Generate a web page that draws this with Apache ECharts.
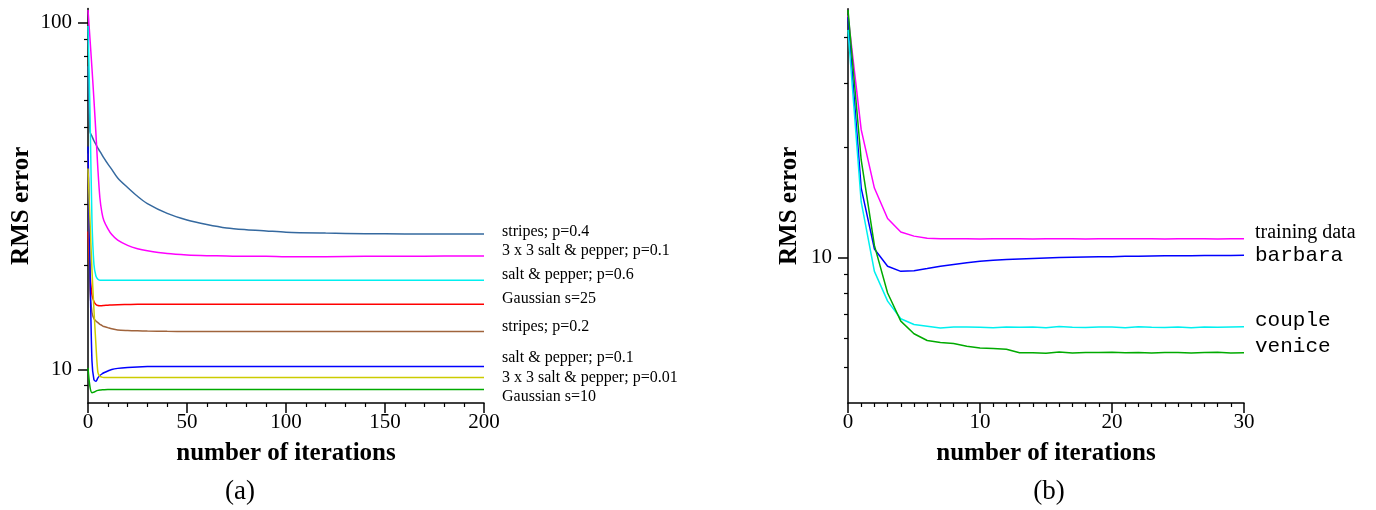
<!DOCTYPE html>
<html>
<head>
<meta charset="utf-8">
<script src="https://cdn.jsdelivr.net/npm/echarts@6/dist/echarts.min.js"></script>
<style>
  html, body { margin: 0; padding: 0; background: #fff; }
  #chart { width: 1376px; height: 510px; }
</style>
</head>
<body>
<div id="chart"></div>
<script>
// ---- panel (a): RMS error vs iterations, 8 noise types ----
const leftIter = [0, 1, 2, 3, 4, 5, 6, 7, 8, 10, 12, 15, 20, 25, 30, 40, 50, 60, 70, 80, 90, 100, 120, 140, 160, 180, 200]

const stripes04 = [75, 48.5, 47.1, 45.7, 44.6, 43.5, 42.6, 41.7, 40.8, 39.2, 37.8, 35.7, 33.5, 31.6, 30.1, 28.2, 27.0, 26.2, 25.6, 25.3, 25.1, 24.9, 24.75, 24.65, 24.6, 24.6, 24.6]
const saltPepper3x3_01 = [109, 90, 74, 60, 48, 37.8, 31.3, 28.4, 26.9, 25.5, 24.5, 23.6, 22.8, 22.3, 22.0, 21.6, 21.4, 21.3, 21.25, 21.2, 21.2, 21.15, 21.15, 21.2, 21.2, 21.25, 21.25]
const saltPepper06 = [98, 56, 27, 20.1, 18.6, 18.2, 18.1, 18.1, 18.1, 18.1, 18.1, 18.1, 18.1, 18.1, 18.1, 18.1, 18.1, 18.1, 18.1, 18.1, 18.1, 18.1, 18.1, 18.1, 18.1, 18.1, 18.1]
const gaussian25 = [25, 19, 16.4, 15.7, 15.4, 15.3, 15.28, 15.28, 15.3, 15.32, 15.35, 15.38, 15.4, 15.42, 15.42, 15.42, 15.42, 15.42, 15.42, 15.42, 15.42, 15.42, 15.42, 15.42, 15.42, 15.42, 15.42]
const stripes02 = [42, 17, 14.6, 14.0, 13.8, 13.65, 13.5, 13.4, 13.3, 13.2, 13.1, 13.0, 12.95, 12.92, 12.9, 12.88, 12.87, 12.87, 12.87, 12.87, 12.87, 12.87, 12.87, 12.87, 12.87, 12.87, 12.87]
const saltPepper01 = [44, 20, 10.6, 9.35, 9.25, 9.45, 9.6, 9.7, 9.78, 9.9, 10.0, 10.07, 10.13, 10.17, 10.19, 10.2, 10.2, 10.2, 10.2, 10.2, 10.2, 10.2, 10.2, 10.2, 10.2, 10.2, 10.2]
const saltPepper3x3_001 = [38, 27, 19.4, 14.9, 11.8, 9.8, 9.55, 9.5, 9.48, 9.48, 9.48, 9.48, 9.48, 9.48, 9.48, 9.48, 9.48, 9.48, 9.48, 9.48, 9.48, 9.48, 9.48, 9.48, 9.48, 9.48, 9.48]
const gaussian10 = [10.1, 8.9, 8.57, 8.6, 8.66, 8.7, 8.72, 8.73, 8.74, 8.75, 8.75, 8.75, 8.75, 8.75, 8.75, 8.75, 8.75, 8.75, 8.75, 8.75, 8.75, 8.75, 8.75, 8.75, 8.75, 8.75, 8.75]

// ---- panel (b): four test images, 0..30 iterations ----
const rightIter = [0, 1, 2, 3, 4, 5, 6, 7, 8, 9, 10, 11, 12, 13, 14, 15, 16, 17, 18, 19, 20, 21, 22, 23, 24, 25, 26, 27, 28, 29, 30]

const trainingData = [46, 22.4, 15.5, 12.8, 11.75, 11.45, 11.3, 11.27, 11.26, 11.27, 11.25, 11.26, 11.27, 11.26, 11.25, 11.27, 11.26, 11.27, 11.25, 11.26, 11.27, 11.26, 11.27, 11.26, 11.25, 11.27, 11.26, 11.27, 11.25, 11.27, 11.26]
const barbara = [45.5, 15.5, 10.56, 9.47, 9.17, 9.2, 9.33, 9.47, 9.58, 9.68, 9.77, 9.83, 9.88, 9.92, 9.95, 9.98, 10.0, 10.02, 10.04, 10.05, 10.06, 10.08, 10.09, 10.1, 10.11, 10.12, 10.12, 10.13, 10.14, 10.14, 10.15]
const couple = [42, 14.2, 9.17, 7.6, 6.8, 6.56, 6.49, 6.42, 6.46, 6.46, 6.45, 6.43, 6.46, 6.45, 6.46, 6.43, 6.48, 6.45, 6.44, 6.46, 6.46, 6.43, 6.47, 6.45, 6.44, 6.46, 6.43, 6.46, 6.45, 6.46, 6.47]
const venice = [47.6, 18.5, 10.8, 8.0, 6.7, 6.19, 5.93, 5.86, 5.82, 5.72, 5.66, 5.64, 5.61, 5.49, 5.49, 5.47, 5.52, 5.48, 5.5, 5.5, 5.51, 5.49, 5.5, 5.48, 5.5, 5.5, 5.48, 5.5, 5.51, 5.48, 5.49]

// tick values
const leftMajorY = [10, 100]
const leftMinorY = [9, 20, 30, 40, 50, 60, 70, 80, 90]
const rightMajorY = [10]
const rightMinorY = [5, 6, 7, 8, 9, 20, 30, 40]

const SERIF = 'Liberation Serif'
const MONO = 'Liberation Mono'

const zip = (xs, ys) => xs.map((x, i) => [x, ys[i]])

const leftSeries = [
  { name: 'stripes; p=0.4', data: stripes04, color: '#35699f', dy: -2 },
  { name: '3 x 3 salt & pepper; p=0.1', data: saltPepper3x3_01, color: '#ff00ff', dy: -5 },
  { name: 'salt & pepper; p=0.6', data: saltPepper06, color: '#00f0f0', dy: -5 },
  { name: 'Gaussian s=25', data: gaussian25, color: '#ff0000', dy: -5 },
  { name: 'stripes; p=0.2', data: stripes02, color: '#a0643c', dy: -5 },
  { name: 'salt & pepper; p=0.1', data: saltPepper01, color: '#0000ff', dy: -9 },
  { name: '3 x 3 salt & pepper; p=0.01', data: saltPepper3x3_001, color: '#cccc00', dy: 0 },
  { name: 'Gaussian s=10', data: gaussian10, color: '#00aa00', dy: 7 }
]

const rightSeries = [
  { name: 'training data', data: trainingData, color: '#ff00ff', dy: -6, font: SERIF, size: 20 },
  { name: 'barbara', data: barbara, color: '#0000ff', dy: 0, font: MONO, size: 21 },
  { name: 'couple', data: couple, color: '#00f0f0', dy: -6, font: MONO, size: 21 },
  { name: 'venice', data: venice, color: '#00aa00', dy: -6, font: MONO, size: 21 }
]

const axisText = { color: '#000', fontFamily: SERIF, fontSize: 21 }
const nameText = { color: '#000', fontFamily: SERIF, fontSize: 25, fontWeight: 'bold' }
const blackLine = { color: '#000', width: 1.5 }

const makeX = (gridIndex, max, interval, minorSplit) => ({
  type: 'value',
  gridIndex,
  min: 0,
  max,
  interval,
  name: 'number of iterations',
  nameLocation: 'middle',
  nameGap: 38,
  nameTextStyle: nameText,
  axisLine: { show: true, lineStyle: blackLine },
  axisTick: { show: true, length: 10, lineStyle: blackLine },
  minorTick: { show: true, splitNumber: minorSplit, length: 4, lineStyle: { color: '#000', width: 1.2 } },
  axisLabel: { ...axisText, margin: 9 },
  splitLine: { show: false },
  minorSplitLine: { show: false }
})

const makeYMajor = (gridIndex, min, max, ticks, nameGap) => ({
  type: 'log',
  logBase: 10,
  gridIndex,
  position: 'left',
  min,
  max,
  name: 'RMS error',
  nameLocation: 'middle',
  nameGap,
  nameRotate: 90,
  nameTextStyle: nameText,
  axisLine: { show: true, lineStyle: blackLine },
  axisTick: { show: true, length: 10, customValues: ticks, lineStyle: blackLine },
  axisLabel: { ...axisText, margin: 16, customValues: ticks },
  splitLine: { show: false }
})

const makeYMinor = (gridIndex, min, max, ticks) => ({
  type: 'log',
  logBase: 10,
  gridIndex,
  position: 'left',
  offset: 0,
  min,
  max,
  axisLine: { show: false },
  axisTick: { show: true, length: 4, customValues: ticks, lineStyle: { color: '#000', width: 1.2 } },
  axisLabel: { show: false },
  splitLine: { show: false }
})

const option = {
  animation: false,
  backgroundColor: '#fff',
  grid: [
    { left: 88, right: 892, top: 8.6, bottom: 107 },
    { left: 848, right: 132, top: 8.7, bottom: 107 }
  ],
  xAxis: [
    makeX(0, 200, 50, 5),
    makeX(1, 30, 10, 10)
  ],
  yAxis: [
    makeYMajor(0, 8, 110, leftMajorY, 54),
    makeYMinor(0, 8, 110, leftMinorY),
    makeYMajor(1, 4, 48, rightMajorY, 46),
    makeYMinor(1, 4, 48, rightMinorY)
  ],
  graphic: [
    { type: 'text', x: 240, y: 492, style: { text: '(a)', fill: '#000', font: '27px "Liberation Serif"', textAlign: 'center', textVerticalAlign: 'middle' } },
    { type: 'text', x: 1049, y: 492, style: { text: '(b)', fill: '#000', font: '27px "Liberation Serif"', textAlign: 'center', textVerticalAlign: 'middle' } }
  ],
  series: [
    ...leftSeries.map(s => ({
      name: s.name,
      type: 'line',
      xAxisIndex: 0,
      yAxisIndex: 0,
      data: zip(leftIter, s.data),
      showSymbol: false,
      smooth: 0.3,
      lineStyle: { color: s.color, width: 1.5 },
      itemStyle: { color: s.color },
      endLabel: {
        show: true,
        formatter: '{a}',
        distance: 18,
        offset: [0, s.dy],
        color: '#000',
        fontFamily: SERIF,
        fontSize: 16
      }
    })),
    ...rightSeries.map(s => ({
      name: s.name,
      type: 'line',
      xAxisIndex: 1,
      yAxisIndex: 2,
      data: zip(rightIter, s.data),
      showSymbol: false,
      lineStyle: { color: s.color, width: 1.5 },
      itemStyle: { color: s.color },
      endLabel: {
        show: true,
        formatter: '{a}',
        distance: 11,
        offset: [0, s.dy],
        color: '#000',
        fontFamily: s.font,
        fontSize: s.size
      }
    }))
  ]
}

const chart = echarts.init(document.getElementById('chart'))
chart.setOption(option)
window.addEventListener('resize', () => chart.resize())
</script>
</body>
</html>
